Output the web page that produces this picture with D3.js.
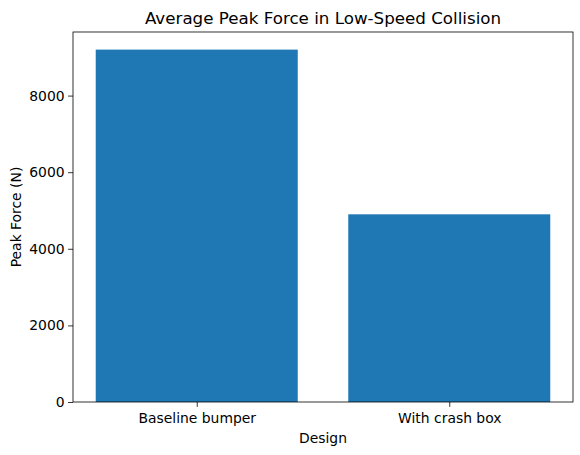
<!DOCTYPE html>
<html>
<head>
<meta charset="utf-8">
<script src="https://cdn.jsdelivr.net/npm/d3@7"></script>
<style>
  body { margin: 0; background: white; }
  text { font-family: "DejaVu Sans", sans-serif; fill: black; }
</style>
</head>
<body>
<div id="chart"></div>
<script>
var designs = ["Baseline bumper", "With crash box"];
var peakForce = [9200, 4900];
var yTicks = [0, 2000, 4000, 6000, 8000];

var width = 580, height = 455;
var margin = { top: 32, right: 7, bottom: 53, left: 73 };
var innerW = width - margin.left - margin.right;
var innerH = height - margin.top - margin.bottom;

var svg = d3.select("#chart")
  .append("svg")
  .attr("width", width)
  .attr("height", height);

var g = svg.append("g")
  .attr("transform", "translate(" + margin.left + "," + margin.top + ")");

// matplotlib style: category positions 0,1, bar width 0.8, 5% margins
var x = d3.scaleLinear()
  .domain([-0.49, 1.49])
  .range([0, innerW]);

var y = d3.scaleLinear()
  .domain([0, d3.max(peakForce) * 1.05])
  .range([innerH, 0]);

g.selectAll(".bar")
  .data(designs)
  .enter()
  .append("rect")
  .attr("class", "bar")
  .attr("x", function(d, i) { return x(i - 0.4); })
  .attr("width", function(d, i) { return x(i + 0.4) - x(i - 0.4); })
  .attr("y", function(d, i) { return y(peakForce[i]); })
  .attr("height", function(d, i) { return innerH - y(peakForce[i]); })
  .attr("fill", "#1f77b4");

var xAxis = d3.axisBottom(x)
  .tickValues([0, 1])
  .tickFormat(function(d) { return designs[d]; })
  .tickSize(4.9)
  .tickPadding(6);

var yAxis = d3.axisLeft(y)
  .tickValues(yTicks)
  .tickFormat(d3.format("d"))
  .tickSize(4.9)
  .tickPadding(3.5);

var gx = g.append("g")
  .attr("transform", "translate(0," + innerH + ")")
  .call(xAxis);
var gy = g.append("g").call(yAxis);

[gx, gy].forEach(function(ax) {
  ax.select(".domain").remove();
  ax.selectAll(".tick line").attr("stroke", "black").attr("stroke-width", 0.8);
  ax.selectAll(".tick text").style("font-size", "13.9px").attr("fill", "black");
});

// frame
g.append("rect")
  .attr("width", innerW)
  .attr("height", innerH)
  .attr("fill", "none")
  .attr("stroke", "black")
  .attr("stroke-width", 0.8);

svg.append("text")
  .attr("x", margin.left + innerW / 2)
  .attr("y", 24)
  .attr("text-anchor", "middle")
  .style("font-size", "16.7px")
  .text("Average Peak Force in Low-Speed Collision");

svg.append("text")
  .attr("x", margin.left + innerW / 2)
  .attr("y", 443)
  .attr("text-anchor", "middle")
  .style("font-size", "13.9px")
  .text("Design");

svg.append("text")
  .attr("transform", "translate(21," + (margin.top + innerH / 2) + ") rotate(-90)")
  .attr("text-anchor", "middle")
  .style("font-size", "13.9px")
  .text("Peak Force (N)");
</script>
</body>
</html>
